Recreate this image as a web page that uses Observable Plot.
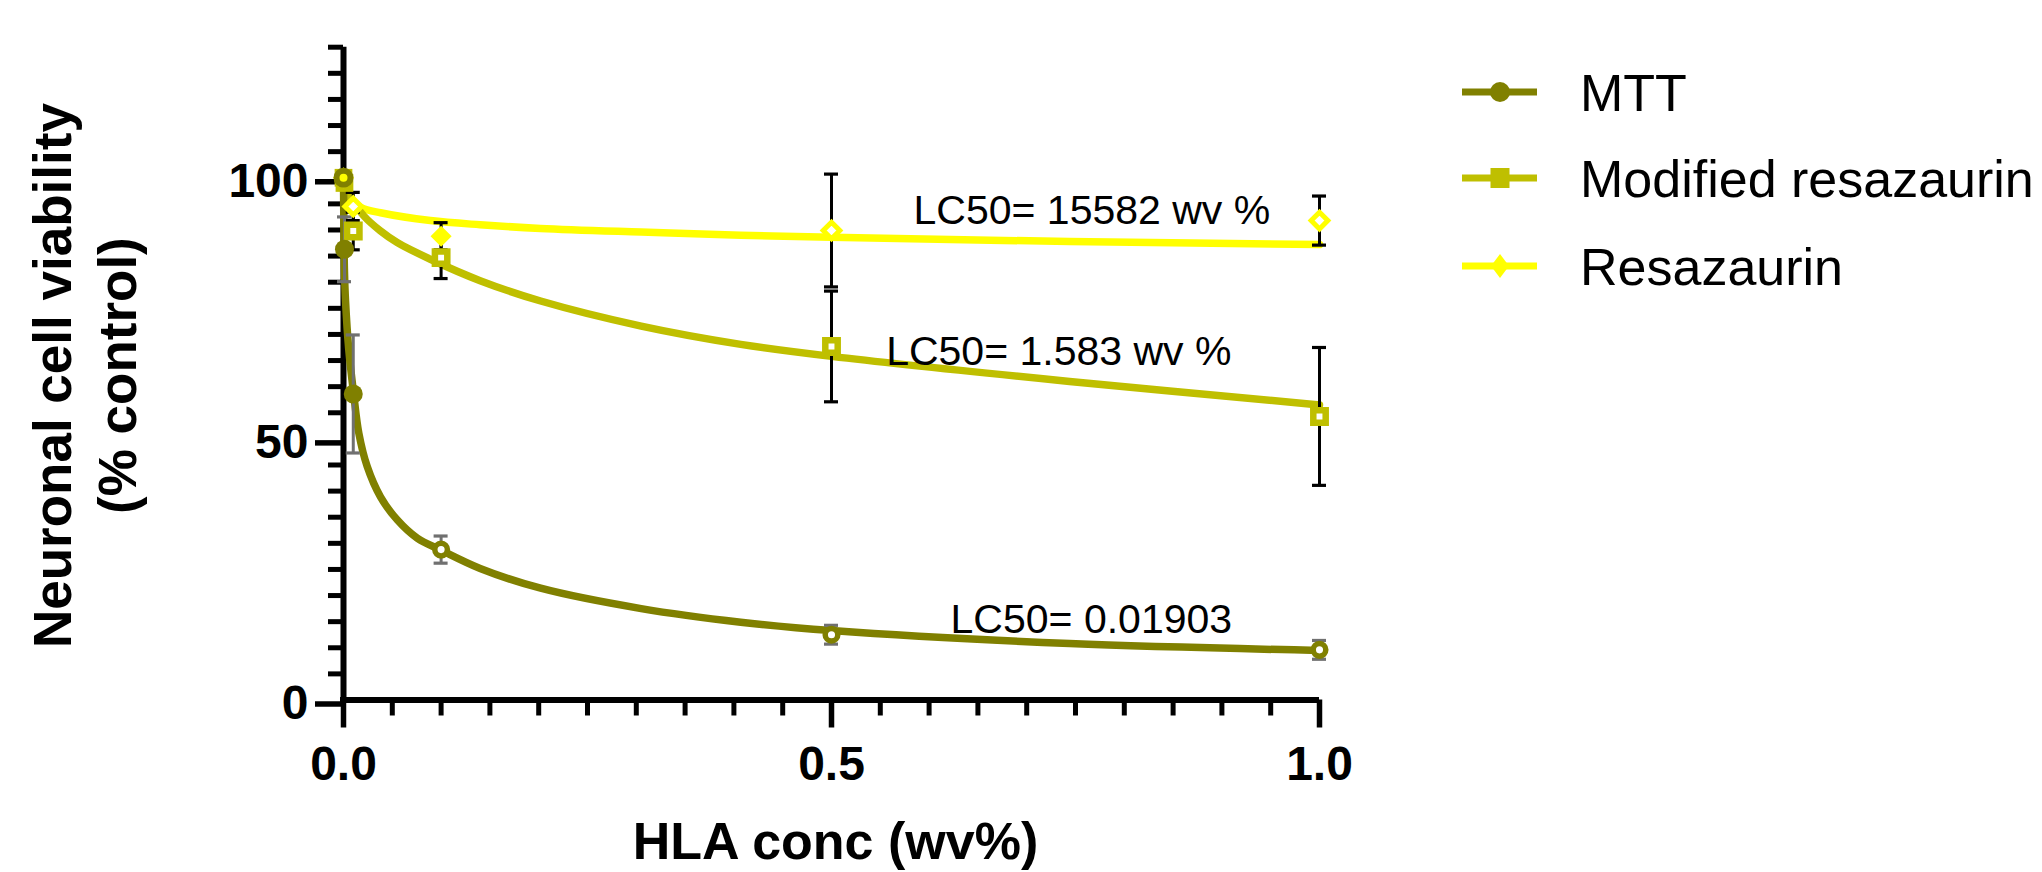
<!DOCTYPE html>
<html>
<head>
<meta charset="utf-8">
<script src="https://cdn.jsdelivr.net/npm/d3@7"></script>
<script src="https://cdn.jsdelivr.net/npm/@observablehq/plot@0.6"></script>
<style>
  html, body { margin: 0; padding: 0; background: #ffffff; }
  #chart { position: relative; width: 2042px; height: 872px; overflow: hidden; }
  #chart svg text { font-family: "Liberation Sans", Arial, Helvetica, sans-serif; }
</style>
</head>
<body>
<div id="chart"></div>
<script>
// ---------------- data ----------------
const seriesNames = ["MTT", "Modified resazaurin", "Resazaurin"];
const seriesColors = ["#808000", "#BFBF00", "#FFFF00"];
const seriesSymbols = ["circle", "square", "diamond2"];

// measured points (x = HLA conc wv%, y = % control, err = SD)
const mttX   = [0, 0.001, 0.01, 0.1, 0.5, 1.0];
const mttY   = [100, 86.3, 58.6, 28.8, 12.5, 9.6];
const mttErr = [0, 6.2, 11.3, 2.6, 1.8, 1.8];

const modX   = [0, 0.001, 0.01, 0.1, 0.5, 1.0];
const modY   = [100, 99, 89.8, 84.7, 67.7, 54.3];
const modErr = [0, 0, 3.6, 4.0, 10.6, 13.2];

const resX   = [0, 0.01, 0.1, 0.5, 1.0];
const resY   = [100, 94.5, 88.8, 89.9, 91.8];
const resErr = [0, 2.7, 2.6, 10.8, 4.7];

// fitted curves
const mttCurveX = [0, 0.0005, 0.001, 0.002, 0.0054, 0.0105, 0.0157, 0.0243, 0.0379, 0.055, 0.0755, 0.1, 0.14, 0.202, 0.305, 0.407, 0.5, 0.744, 1.0];
const mttCurveY = [100, 88, 82, 76.7, 67.1, 58.5, 51.1, 44.7, 38.9, 34.5, 31.0, 28.7, 25.2, 21.4, 17.5, 14.9, 13.3, 10.8, 9.5];

const modCurveX = [0, 0.004, 0.0208, 0.038, 0.055, 0.089, 0.14, 0.202, 0.305, 0.407, 0.5, 0.744, 1.0];
const modCurveY = [100, 97.2, 92.7, 89.8, 87.6, 84.4, 80.3, 76.4, 71.6, 68.1, 65.8, 61.0, 56.5];

const resCurveX = [0, 0.003, 0.0072, 0.018, 0.038, 0.089, 0.14, 0.202, 0.305, 0.407, 0.5, 0.744, 1.0];
const resCurveY = [100, 97.5, 95.9, 94.3, 93.3, 91.8, 91.0, 90.3, 89.6, 89.0, 88.6, 87.8, 87.2];

// annotations
const lc50Text = ["LC50= 15582 wv %", "LC50= 1.583 wv %", "LC50= 0.01903"];
const lc50X    = [0.584, 0.556, 0.622];
const lc50Y    = [91.1, 64.2, 12.9];

// axes
const xTicks = [0, 0.5, 1.0];
const xTickLabels = ["0.0", "0.5", "1.0"];
const yTicks = [0, 50, 100];
const yTickLabels = ["0", "50", "100"];
const xTitle = "HLA conc (wv%)";
const yTitle = "Neuronal cell viability\n(% control)";

// ---------------- build ----------------
const pts = (xs, ys, es) => xs.map((x, i) => ({x, y: ys[i], err: es[i]}));
const crv = (xs, ys) => xs.map((x, i) => ({x, y: ys[i]}));

const mttPts = pts(mttX, mttY, mttErr);
const modPts = pts(modX, modY, modErr);
const resPts = pts(resX, resY, resErr);
const mttCurve = crv(mttCurveX, mttCurveY);
const modCurve = crv(modCurveX, modCurveY);
const resCurve = crv(resCurveX, resCurveY);
const labels = lc50Text.map((t, i) => ({t, x: lc50X[i], y: lc50Y[i]}));

const xMinor = d3.range(0, 21).map(i => i / 20).filter(v => !xTicks.some(t => Math.abs(t - v) < 1e-9));
const yMinor = d3.range(0, 26).map(i => i * 5).filter(v => !yTicks.includes(v));

const W = 2042, H = 872;
const X0 = 343, X1 = 1319, Y0 = 699.5, YT = 46.7;
const FONT = '"Liberation Sans", Arial, Helvetica, sans-serif';

function errMarks(data, color) {
  const d = data.filter(p => p.err > 0);
  return [
    Plot.ruleX(d, {x: "x", y1: p => p.y - p.err, y2: p => p.y + p.err, stroke: color, strokeWidth: 3}),
    Plot.ruleY(d, {y: p => p.y + p.err, x1: "x", x2: "x", insetLeft: -7, insetRight: -7, stroke: color, strokeWidth: 3.2}),
    Plot.ruleY(d, {y: p => p.y - p.err, x1: "x", x2: "x", insetLeft: -7, insetRight: -7, stroke: color, strokeWidth: 3.2})
  ];
}

const chart = Plot.plot({
  width: W, height: H,
  marginLeft: X0, marginRight: W - X1, marginTop: YT, marginBottom: H - Y0,
  x: {domain: [0, 1], axis: null},
  y: {domain: [0, 125], axis: null},
  style: {fontFamily: FONT, background: "#ffffff", color: "#000000"},
  marks: [
    // axes
    Plot.axisY(yMinor, {tickSize: 15, strokeWidth: 5, fill: "none", label: null}),
    Plot.axisY(yTicks, {tickSize: 28, tickPadding: 7, strokeWidth: 5.5, fontSize: 48, fontWeight: "bold", dy: 4,
      tickFormat: (d) => yTickLabels[yTicks.indexOf(d)], label: null}),
    Plot.axisX(xMinor, {tickSize: 16, strokeWidth: 5, fill: "none", label: null}),
    Plot.axisX(xTicks, {tickSize: 28, tickPadding: 18, strokeWidth: 5.5, fontSize: 48, fontWeight: "bold",
      tickFormat: (d) => xTickLabels[xTicks.indexOf(d)], label: null}),
    Plot.ruleX([0], {y1: 0, y2: 125, strokeWidth: 6, stroke: "black"}),
    Plot.ruleY([0], {x1: 0, x2: 1, strokeWidth: 6, stroke: "black", insetLeft: -3}),

    // fitted curves
    Plot.line(resCurve, {x: "x", y: "y", stroke: seriesColors[2], strokeWidth: 7.5, curve: "catmull-rom"}),
    Plot.line(modCurve, {x: "x", y: "y", stroke: seriesColors[1], strokeWidth: 7.5, curve: "catmull-rom"}),
    Plot.line(mttCurve, {x: "x", y: "y", stroke: seriesColors[0], strokeWidth: 7.5, curve: "catmull-rom"}),

    // error bars
    ...errMarks(resPts, "#000000"),
    ...errMarks(modPts, "#000000"),
    ...errMarks(mttPts, "#707070"),

    // markers: Modified resazaurin
    Plot.dot(modPts.filter(d => d.x <= 0.001), {x: "x", y: "y", symbol: "square", r: 10, fill: seriesColors[1]}),
    Plot.dot(modPts.filter(d => d.x > 0.001), {x: "x", y: "y", symbol: "square", r: 7, stroke: seriesColors[1], strokeWidth: 6.5, fill: "white"}),
    // markers: Resazaurin
    Plot.dot(resPts.filter(d => d.x === 0 || d.x === 0.1), {x: "x", y: "y", symbol: "diamond2", r: 9.5, fill: seriesColors[2]}),
    Plot.dot(resPts.filter(d => !(d.x === 0 || d.x === 0.1)), {x: "x", y: "y", symbol: "diamond2", r: 7.5, stroke: seriesColors[2], strokeWidth: 5, fill: "white"}),
    // markers: MTT
    Plot.dot(mttPts.filter(d => d.x === 0), {x: "x", y: "y", symbol: "circle", r: 7, stroke: seriesColors[0], strokeWidth: 6, fill: "none"}),
    Plot.dot(mttPts.filter(d => d.x > 0 && d.x <= 0.01), {x: "x", y: "y", symbol: "circle", r: 9.5, fill: seriesColors[0]}),
    Plot.dot(mttPts.filter(d => d.x > 0.01), {x: "x", y: "y", symbol: "circle", r: 6.3, stroke: seriesColors[0], strokeWidth: 5.5, fill: "white"}),

    // LC50 annotations
    Plot.text(labels, {x: "x", y: "y", text: "t", textAnchor: "start", lineAnchor: "bottom", fontSize: 41, fill: "black"}),

    // axis titles
    Plot.text([xTitle], {frameAnchor: "bottom", textAnchor: "middle", lineAnchor: "bottom", dy: 158.5, dx: 4,
      fontSize: 52, fontWeight: "bold", fill: "black"}),
    Plot.text([yTitle], {frameAnchor: "left", textAnchor: "middle", rotate: -90, lineAnchor: "bottom", lineHeight: 1.21,
      dx: 135 - X0, dy: 2, fontSize: 53, fontWeight: "bold", fill: "black"})
  ]
});

// ---------------- legend ----------------
const svg = d3.select(chart);
const legendRows = [92, 178, 266];
const lg = svg.append("g").attr("class", "legend").attr("text-anchor", "start");
seriesNames.forEach((name, i) => {
  const cy = legendRows[i];
  const g = lg.append("g");
  g.append("line").attr("x1", 1462).attr("x2", 1537).attr("y1", cy).attr("y2", cy)
    .attr("stroke", seriesColors[i]).attr("stroke-width", 7);
  const cx = 1500;
  if (seriesSymbols[i] === "circle") {
    g.append("circle").attr("cx", cx).attr("cy", cy).attr("r", 10).attr("fill", seriesColors[i]);
  } else if (seriesSymbols[i] === "square") {
    g.append("rect").attr("x", cx - 9.5).attr("y", cy - 10).attr("width", 19).attr("height", 20).attr("fill", seriesColors[i]);
  } else {
    g.append("path").attr("d", `M${cx},${cy - 12}L${cx + 9},${cy}L${cx},${cy + 12}L${cx - 9},${cy}Z`).attr("fill", seriesColors[i]);
  }
  g.append("text").attr("x", 1580).attr("y", cy + 18.5).attr("font-size", 52)
    .attr("text-anchor", "start").attr("font-family", FONT)
    .attr("fill", "#000000").text(name);
});

document.getElementById("chart").appendChild(chart);
</script>
</body>
</html>
